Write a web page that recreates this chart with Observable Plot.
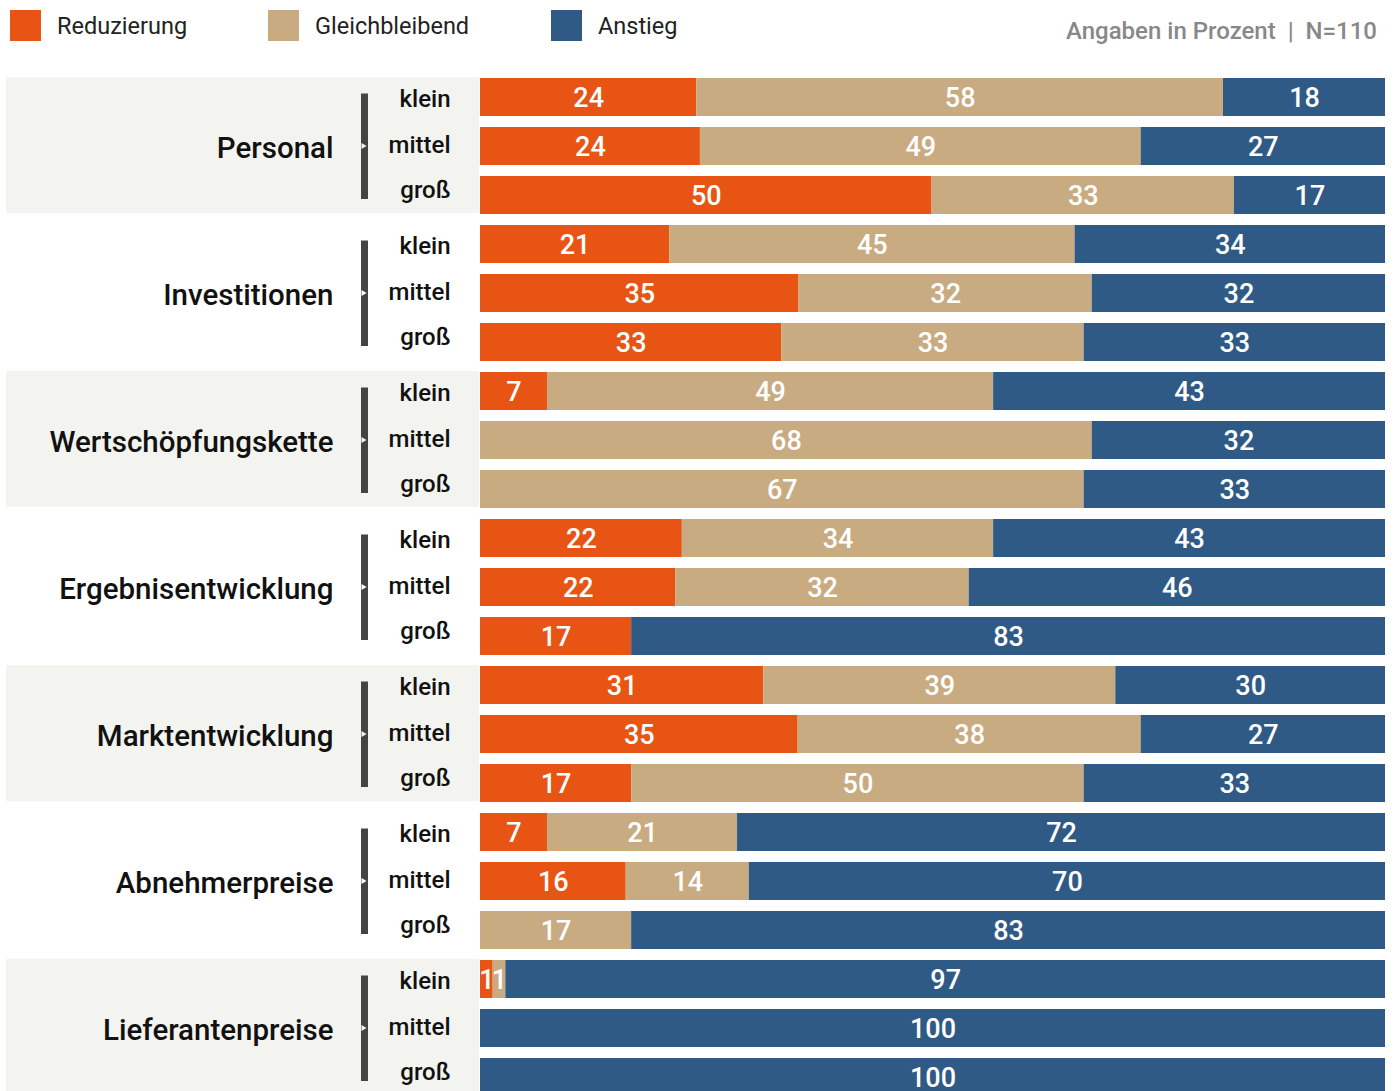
<!DOCTYPE html>
<html><head><meta charset="utf-8">
<script src="https://cdn.jsdelivr.net/npm/d3@7"></script>
<script src="https://cdn.jsdelivr.net/npm/@observablehq/plot@0.6"></script>
<style>
body{margin:0;background:#fff;font-family:Roboto,sans-serif;}
#legend{position:relative;height:56px;width:1396px;}
#items{position:absolute;left:10px;top:10px;display:flex;align-items:center;height:31px;}
.item{display:flex;align-items:center;}
.sw{width:31px;height:31px;margin-right:16px;flex:none;}
.lab{font-size:23.5px;line-height:31px;padding-top:2px;color:#222;font-weight:400;white-space:nowrap;}
#note{position:absolute;right:19px;top:16px;font-size:24px;line-height:31px;font-weight:500;color:#888;white-space:pre;}
</style></head><body>
<div id="legend"><div id="items"></div><div id="note"></div></div>
<div id="chart"></div>
<script>
const groups = ["Personal","Investitionen","Wertschöpfungskette","Ergebnisentwicklung","Marktentwicklung","Abnehmerpreise","Lieferantenpreise"];
const sizes = ["klein","mittel","groß"];
const categories = ["Reduzierung","Gleichbleibend","Anstieg"];
const colors = ["#e85413","#c9ab81","#305a86"];
const note = "Angaben in Prozent  |  N=110";
// shares in percent per group × size (klein, mittel, groß); labels show rounded values
const reduzierung    = [23.9,24.3,49.9, 20.9,35.2,33.3, 7.4,0,0,      22.3,21.6,16.7, 31.3,35.1,16.7, 7.4,16.1,0,    1.4,0,0];
const gleichbleibend = [58.2,48.7,33.4, 44.8,32.4,33.4, 49.3,67.6,66.7, 34.4,32.4,0,   38.9,37.9,50.0, 21.0,13.6,16.7, 1.4,0,0];
const anstieg        = [17.9,27.0,16.7, 34.3,32.4,33.3, 43.3,32.4,33.3, 43.3,46.0,83.3, 29.8,27.0,33.3, 71.6,70.3,83.3, 97.2,100,100];

const series = [reduzierung, gleichbleibend, anstieg];
const rows = [];
groups.forEach((g, gi) => sizes.forEach((s, si) => rows.push({group: g, size: s, gi})));
const data = [];
rows.forEach((r, i) => categories.forEach((c, ci) => data.push({group: r.group, size: r.size, category: c, value: series[ci][i]})));
const labeled = data.filter(d => d.value > 0);
const groupRows = groups.map((g, gi) => ({group: g, shaded: gi % 2 === 0}));
const BAND = "#f3f3ef";

// legend (item widths are layout constants)
const itemWidths = [258, 283, null];
const items = d3.select("#items");
categories.forEach((c, i) => {
  const it = items.append("div").attr("class", "item");
  if (itemWidths[i]) it.style("width", itemWidths[i] + "px");
  it.append("div").attr("class", "sw").style("background", colors[i]);
  it.append("div").attr("class", "lab").text(c);
});
d3.select("#note").text(note);

const sizeDy = {klein: 2, mittel: -1, "groß": -5};

const chart = Plot.plot({
  width: 1396,
  height: 1046,
  marginLeft: 6,
  marginRight: 11,
  marginTop: 16,
  marginBottom: 1,
  style: {fontFamily: "Roboto", background: "#fff", overflow: "visible"},
  x: {domain: [0, 1], range: [480, 1385], axis: null},
  y: {domain: sizes, paddingInner: 11/49, paddingOuter: 5.5/49, axis: null},
  fy: {domain: groups, paddingInner: 0, paddingOuter: 0, axis: null},
  color: {domain: categories, range: colors},
  marks: [
    Plot.rect(groupRows.filter(d => d.shaded), {fy: "group", fill: BAND, insetRight: 906, insetTop: 5, insetBottom: 6}),
    Plot.rect(groupRows, {fy: "group", fill: "#444", insetLeft: 355, insetRight: 1017, insetTop: 21.5, insetBottom: 20}),
    Plot.dot(groupRows, {fy: "group", frameAnchor: "left", dx: 356.7, symbol: "triangle", rotate: 90, r: 2.2, fill: d => d.shaded ? BAND : "#fff", stroke: null}),
    Plot.text(groupRows, {fy: "group", text: "group", frameAnchor: "left", dx: 327, dy: 3, textAnchor: "end", fontSize: 29.5, fontWeight: 500, fill: "#111"}),
    ...sizes.map(s => Plot.text(rows.filter(r => r.size === s), {fy: "group", y: "size", text: "size", frameAnchor: "left", dx: 444, dy: sizeDy[s], textAnchor: "end", fontSize: 24, fontWeight: 500, fill: "#111"})),
    Plot.barX(data, Plot.stackX({x: "value", y: "size", fy: "group", fill: "category", order: categories, offset: "normalize"})),
    Plot.text(labeled, Plot.stackX({x: "value", y: "size", fy: "group", z: "category", order: categories, offset: "normalize", text: d => String(Math.round(d.value)), fill: "#fff", fontSize: 27, fontWeight: 500, dy: 1}))
  ]
});
document.getElementById("chart").appendChild(chart);
</script>
</body></html>
